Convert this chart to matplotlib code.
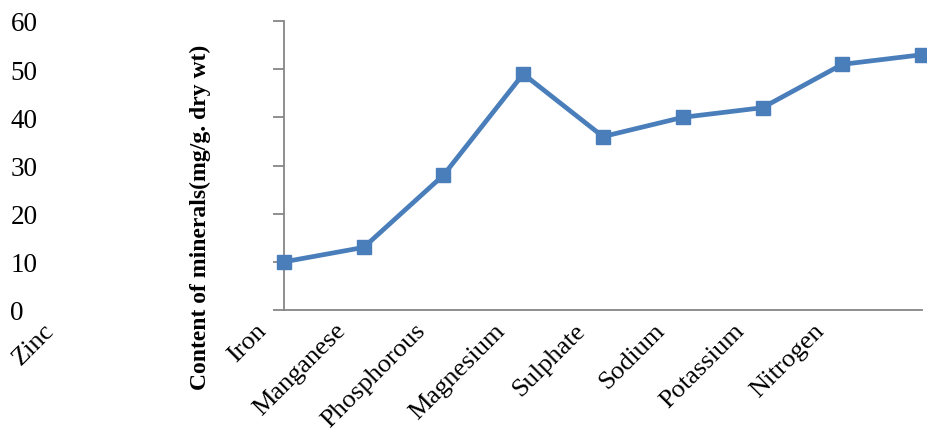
import matplotlib.pyplot as plt
from matplotlib import transforms

# values, one per plotted point
values = [10, 13, 28, 49, 36, 40, 42, 51, 53]
# category labels as they sit in the chart (Zinc ended up far left)
categories = ["Zinc", "Iron", "Manganese", "Phosphorous", "Magnesium",
              "Sulphate", "Sodium", "Potassium", "Nitrogen"]
yticks = [0, 10, 20, 30, 40, 50, 60]
ylabel = "Content of minerals(mg/g. dry wt)"

line_col = "#4A7EBB"
axis_col = "#868686"

plt.rcParams['font.family'] = ['Liberation Serif', 'DejaVu Serif']

fig = plt.figure(figsize=(9.28, 4.35), dpi=100)
ax = fig.add_axes([284 / 928, 1 - 311 / 435, 638 / 928, 289 / 435])

x = list(range(len(values)))
ax.plot(x, values, color=line_col, lw=3.4, marker='s', ms=10,
        clip_on=False, solid_joinstyle='miter', zorder=3)

ax.set_xlim(0, len(values) - 1)
ax.set_ylim(0, 60)

for s in ['top', 'right']:
    ax.spines[s].set_visible(False)
for s in ['left', 'bottom']:
    ax.spines[s].set_color(axis_col)
    ax.spines[s].set_linewidth(1.3)

# y ticks: out, gray, labels pushed to the far left edge
ax.set_yticks(yticks)
ax.tick_params(axis='y', direction='out', length=8, width=1.3,
               color=axis_col, pad=189, labelsize=19.5)
for lbl in ax.get_yticklabels():
    lbl.set_horizontalalignment('left')

# x labels: Iron..Nitrogen on the first eight points, rotated 45
ax.set_xticks(x[:-1])
ax.set_xticklabels(categories[1:])
ax.tick_params(axis='x', length=0, pad=0, labelsize=19)
offset = transforms.ScaledTranslation(-29 / 100, -9 / 100, fig.dpi_scale_trans)
for lbl in ax.get_xticklabels():
    lbl.set_rotation(45)
    lbl.set_horizontalalignment('right')
    lbl.set_verticalalignment('top')
    lbl.set_rotation_mode('anchor')
    lbl.set_transform(lbl.get_transform() + offset)

# the stray first category label
tr = transforms.blended_transform_factory(ax.transData, ax.transAxes) + offset
ax.text(-2.66, 0, categories[0], transform=tr, rotation=45,
        rotation_mode='anchor', ha='right', va='top', fontsize=19,
        clip_on=False)

fig.text(200 / 928, 1 - 217 / 435, ylabel, rotation=90, ha='center',
         va='center', fontsize=17, fontweight='bold')

fig.savefig('out.png', dpi=100)
